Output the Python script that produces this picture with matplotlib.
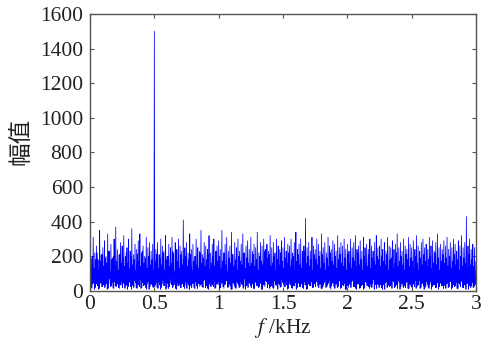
import numpy as np
import matplotlib
matplotlib.use("Agg")
import matplotlib.pyplot as plt

# Spectrum amplitude on a 0.0125 kHz grid: each cell holds a local maximum,
# a minimum, an intermediate bump and a second minimum.
step_khz = 0.0125
peaks = [
    240, 190, 310, 220, 260, 180, 350, 210, 250, 290, 200, 330, 230, 270, 190, 300, 370, 240, 210, 280,
    260, 320, 200, 250, 300, 230, 360, 210, 270, 240, 290, 330, 220, 260, 200, 310, 250, 280, 230, 270,
    1500, 240, 280, 210, 300, 260, 230, 320, 200, 270, 250, 310, 220, 280, 240, 300, 260, 230, 410, 250,
    280, 220, 330, 240, 270, 200, 300, 250, 230, 350, 210, 280, 260, 240, 320, 220, 270, 300, 230, 260,
    290, 240, 350, 220, 270, 310, 230, 260, 340, 210, 280, 250, 300, 230, 270, 330, 220, 260, 290, 240,
    310, 230, 270, 250, 340, 220, 280, 260, 300, 240, 270, 230, 320, 250, 280, 220, 300, 260, 240, 290,
    250, 310, 230, 270, 260, 300, 220, 280, 340, 240, 270, 300, 230, 260, 420, 250, 280, 230, 310, 260,
    240, 300, 270, 230, 330, 250, 280, 220, 310, 260, 240, 290, 270, 230, 320, 250, 280, 260, 300, 240,
    270, 230, 300, 250, 280, 320, 240, 260, 290, 230, 310, 250, 270, 240, 300, 260, 230, 280, 320, 250,
    260, 300, 240, 280, 230, 310, 260, 250, 290, 240, 270, 330, 250, 280, 230, 300, 260, 240, 310, 270,
    250, 290, 240, 320, 260, 230, 280, 300, 250, 270, 240, 310, 260, 290, 230, 280, 330, 250, 270, 240,
    290, 260, 310, 240, 280, 250, 300, 270, 230, 290, 260, 320, 250, 280, 430, 260, 300, 240, 270, 250,
]
troughs = [
    30, 15, 50, 20, 40, 10, 60, 25, 35, 20, 45, 15, 70, 30, 20, 55, 25, 40, 15, 35,
    20, 45, 30, 10, 60, 25, 40, 20, 50, 15, 35, 65, 20, 30, 45, 10, 55, 25, 40, 20,
    25, 50, 15, 35, 20, 60, 30, 10, 45, 25, 70, 20, 35, 15, 50, 30, 20, 40, 25, 55,
    15, 35, 60, 20, 45, 10, 30, 50, 25, 40, 20, 65, 30, 15, 45, 25, 35, 55, 20, 40,
    35, 20, 50, 15, 40, 60, 25, 30, 10, 45, 20, 55, 35, 25, 40, 15, 70, 30, 20, 45,
    20, 40, 15, 55, 30, 25, 45, 10, 35, 60, 20, 40, 25, 50, 15, 35, 30, 45, 20, 65,
    40, 25, 35, 15, 60, 20, 45, 30, 10, 50, 25, 40, 20, 55, 35, 15, 45, 30, 20, 40,
    25, 55, 20, 40, 15, 35, 65, 25, 45, 20, 30, 50, 15, 40, 25, 60, 20, 35, 45, 10,
    30, 45, 20, 60, 25, 15, 40, 50, 20, 35, 10, 55, 30, 25, 45, 20, 65, 35, 15, 40,
    45, 20, 35, 10, 55, 30, 25, 40, 60, 20, 35, 15, 50, 25, 40, 30, 20, 55, 15, 35,
    20, 40, 60, 25, 35, 15, 45, 30, 20, 55, 25, 40, 10, 50, 35, 20, 45, 25, 60, 30,
    35, 15, 45, 25, 55, 20, 40, 30, 15, 50, 25, 60, 20, 35, 45, 10, 40, 30, 20, 35,
]
mids = [
    150, 200, 130, 180, 220, 120, 170, 210, 140, 190, 160, 230, 110, 180, 200, 140, 170, 120, 210, 160,
    190, 140, 220, 160, 130, 200, 150, 180, 120, 210, 170, 140, 230, 160, 190, 130, 200, 150, 180, 120,
    170, 210, 130, 190, 150, 220, 120, 180, 200, 140, 160, 230, 110, 190, 170, 130, 210, 150, 180, 200,
    140, 180, 210, 120, 170, 200, 150, 130, 220, 160, 190, 140, 180, 210, 120, 160, 200, 140, 230, 170,
    200, 130, 170, 220, 150, 110, 190, 160, 210, 140, 180, 120, 200, 170, 150, 220, 130, 190, 160, 140,
    160, 210, 140, 180, 120, 200, 170, 150, 230, 130, 190, 210, 140, 160, 200, 120, 180, 150, 220, 170,
    130, 190, 160, 220, 140, 180, 200, 120, 170, 210, 150, 130, 190, 230, 160, 200, 140, 180, 120, 210,
    180, 150, 200, 130, 210, 160, 120, 190, 140, 220, 170, 150, 200, 130, 180, 210, 160, 140, 190, 120,
    210, 160, 130, 190, 170, 140, 220, 150, 180, 120, 200, 160, 140, 210, 130, 190, 170, 150, 200, 180,
    140, 200, 170, 150, 210, 120, 180, 190, 130, 160, 220, 140, 170, 200, 150, 120, 210, 180, 140, 190,
    170, 130, 200, 160, 120, 190, 150, 210, 170, 140, 180, 200, 130, 160, 220, 150, 190, 120, 170, 210,
    160, 190, 140, 200, 130, 170, 210, 150, 180, 120, 200, 140, 190, 160, 130, 210, 150, 180, 140, 170,
]
lows = [
    20, 40, 10, 55, 30, 15, 45, 25, 60, 35, 10, 40, 25, 50, 15, 30, 45, 20, 35, 55,
    45, 15, 35, 25, 50, 10, 30, 60, 20, 40, 25, 15, 50, 35, 20, 45, 10, 40, 30, 25,
    35, 20, 55, 10, 40, 30, 50, 20, 15, 45, 35, 25, 60, 10, 30, 40, 20, 50, 15, 35,
    50, 10, 30, 45, 20, 55, 15, 40, 35, 25, 60, 20, 45, 10, 30, 50, 25, 15, 40, 55,
    15, 45, 25, 35, 60, 20, 40, 10, 50, 30, 15, 45, 20, 55, 35, 25, 10, 40, 50, 30,
    40, 15, 50, 30, 20, 45, 10, 35, 25, 55, 40, 15, 30, 20, 60, 45, 10, 35, 25, 50,
    25, 55, 10, 40, 35, 15, 30, 50, 20, 45, 25, 60, 15, 35, 10, 40, 30, 55, 20, 45,
    55, 30, 40, 15, 25, 50, 20, 35, 60, 10, 45, 25, 40, 20, 55, 15, 35, 30, 10, 50,
    20, 35, 55, 25, 45, 10, 40, 15, 30, 60, 20, 50, 35, 15, 25, 45, 10, 55, 40, 20,
    35, 10, 45, 50, 20, 40, 30, 15, 55, 25, 35, 60, 10, 45, 20, 30, 50, 15, 40, 25,
    50, 25, 15, 35, 60, 20, 45, 10, 30, 40, 15, 55, 25, 35, 20, 50, 10, 45, 30, 15,
    30, 45, 20, 60, 10, 35, 25, 50, 15, 40, 55, 20, 35, 10, 45, 30, 20, 50, 25, 40,
]

x_ticks = [0, 0.5, 1, 1.5, 2, 2.5, 3]
x_tick_labels = ["0", "0.5", "1", "1.5", "2", "2.5", "3"]
y_ticks = [0, 200, 400, 600, 800, 1000, 1200, 1400, 1600]

# Interleave the four values of every cell into one frequency/amplitude trace
n = len(peaks)
base = np.arange(n) * step_khz
freq = np.empty(4 * n)
amp = np.empty(4 * n)
for j, (offset, values) in enumerate([(0.0, peaks), (0.25, troughs),
                                      (0.5, mids), (0.75, lows)]):
    freq[j::4] = base + offset * step_khz
    amp[j::4] = values

plt.rcParams["mathtext.fontset"] = "stix"
serif = "Liberation Serif"
text_color = "#222222"

fig = plt.figure(figsize=(4.82, 3.54), dpi=100)
ax = fig.add_axes([0.1867, 0.178, 0.8009, 0.7825])

ax.plot(freq, amp, color="#0000ff", linewidth=0.55)

ax.set_xlim(0, 3)
ax.set_ylim(0, 1600)
ax.set_xticks(x_ticks)
ax.set_xticklabels(x_tick_labels)
ax.set_yticks(y_ticks)

for lab in ax.get_xticklabels() + ax.get_yticklabels():
    lab.set_fontfamily(serif)
    lab.set_fontsize(15.5)
    lab.set_color(text_color)

ax.tick_params(direction="in", length=3, width=0.8, colors="#555555",
               top=True, right=True, labelcolor=text_color)
ax.tick_params(axis="x", pad=3)
ax.tick_params(axis="y", pad=5)
for sp in ax.spines.values():
    sp.set_color("#555555")
    sp.set_linewidth(1.0)

ax.set_xlabel(r"$f$ /kHz", fontfamily=serif, fontsize=15.5, color=text_color, labelpad=1)
ax.set_ylabel("幅值", fontfamily=["Noto Sans CJK SC", "DejaVu Sans"], fontsize=17,
              color=text_color)
ax.yaxis.set_label_coords(-0.15, 0.54)

fig.savefig("out.png", dpi=100)
